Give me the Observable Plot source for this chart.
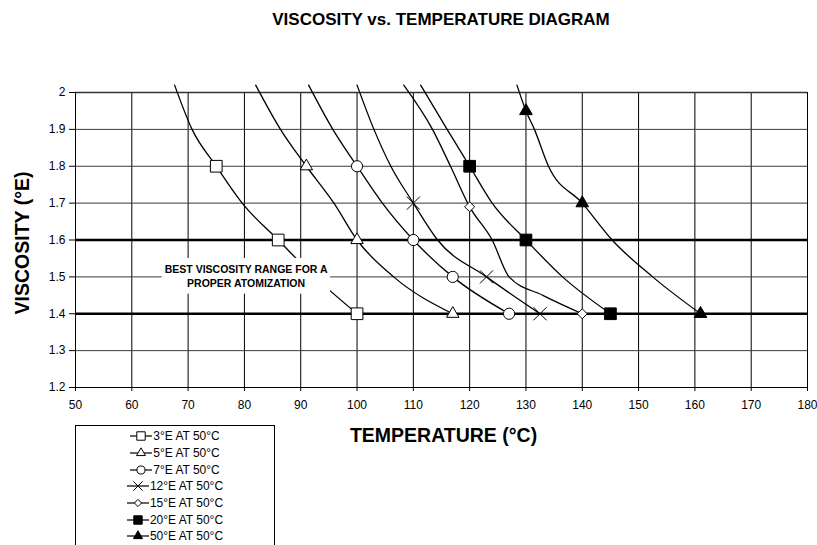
<!DOCTYPE html>
<html><head><meta charset="utf-8">
<script src="https://cdn.jsdelivr.net/npm/d3@7"></script>
<script src="https://cdn.jsdelivr.net/npm/@observablehq/plot@0.6"></script>
<style>
body{margin:0;background:#fff;font-family:"Liberation Sans",Arial,sans-serif;}
#wrap{position:relative;width:817px;height:545px;overflow:hidden;background:#fff;}
#title{height:40px;line-height:40px;margin-left:75px;width:732px;text-align:center;font-weight:bold;font-size:17px;color:#000;}
#legend{position:absolute;left:75px;top:425px;width:200px;height:140px;border:1px solid #000;background:#fff;box-sizing:border-box;padding-top:2px;}
.row{height:16.7px;display:flex;align-items:center;justify-content:center;font-size:12px;color:#000;}
.row svg{margin-right:1px;}
</style></head>
<body><div id="wrap"><div id="title">VISCOSITY vs. TEMPERATURE DIAGRAM</div><div id="plot"></div><div id="legend"></div></div>
<script>
// ---- data ----
const seriesNames = ["3°E AT 50°C","5°E AT 50°C","7°E AT 50°C","12°E AT 50°C","15°E AT 50°C","20°E AT 50°C","50°E AT 50°C"];
// marker points
const markerT = [[75,86,100],[91,100,117],[100,110,117,127],[110,123,132.5],[120,140],[120,130,145],[130,140,161]];
const markerV = [[1.8,1.6,1.4],[1.8,1.6,1.4],[1.8,1.6,1.5,1.4],[1.7,1.5,1.4],[1.69,1.4],[1.8,1.6,1.4],[1.95,1.7,1.4]];
// traced curves
const curveT = [
  [67.6,70.7,75,79.6,86,92.5,100],
  [82,86.4,91,95.9,100,106.5,117],
  [91.4,95.7,100,104.5,110,117,127],
  [100,103,106,110,114.3,123,132.5],
  [108.3,113.4,116.6,120,124,127,133,140],
  [111.3,116,120,124,130,136.5,145],
  [128.4,130,131.5,134,140,145.3,152.5,161]
];
const curveV = [
  [2.02,1.9,1.8,1.7,1.6,1.5,1.4],
  [2.02,1.9,1.8,1.7,1.6,1.5,1.4],
  [2.02,1.9,1.8,1.7,1.6,1.5,1.4],
  [2.02,1.9,1.8,1.7,1.6,1.5,1.4],
  [2.02,1.9,1.8,1.69,1.6,1.5,1.45,1.4],
  [2.02,1.9,1.8,1.7,1.6,1.5,1.4],
  [2.02,1.95,1.9,1.8,1.7,1.6,1.5,1.4]
];
const xTicks = [50,60,70,80,90,100,110,120,130,140,150,160,170,180];
const yTicks = [1.2,1.3,1.4,1.5,1.6,1.7,1.8,1.9,2.0];
const rangeBounds = [1.4,1.6];
const noteText = ["BEST VISCOSITY RANGE FOR A\nPROPER ATOMIZATION"];
const noteT = [80.3], noteV = [1.503];
const noteBoxT = [65.4,95.3], noteBoxV = [1.453,1.55];
const xTitle = "TEMPERATURE (°C)", yTitle = "VISCOSITY (°E)";

// ---- styles ----
const symType = ["square","triangle","circle","times","diamond2","square","triangle"];
const symFill = ["white","white","white","none","white","black","black"];
const symR = [6.6,4.6,5.6,6,4.5,6.6,4.7];

const curves = seriesNames.flatMap((s,i)=>curveT[i].map((t,j)=>({series:s,T:t,V:curveV[i][j]})));
const markers = seriesNames.map((s,i)=>markerT[i].map((t,j)=>({series:s,T:t,V:markerV[i][j]})));
const note = noteText.map((t,i)=>({text:t,T:noteT[i],V:noteV[i],T1:noteBoxT[0],T2:noteBoxT[1],V1:noteBoxV[0],V2:noteBoxV[1]}));

const chart = Plot.plot({
  width:817, height:460,
  marginTop:52, marginBottom:113, marginLeft:75, marginRight:10,
  style:{fontFamily:'"Liberation Sans",Arial,sans-serif', fontSize:"12px", color:"#000", background:"#fff"},
  x:{domain:[50,180]},
  y:{domain:[1.2,2]},
  marks:[
    Plot.gridX(xTicks,{stroke:"#000",strokeOpacity:1,strokeWidth:1}),
    Plot.gridY(yTicks,{stroke:"#3a3a3a",strokeOpacity:1,strokeWidth:1}),
    Plot.ruleY([2.0],{stroke:"#333",strokeWidth:1.6}),
    Plot.ruleY(rangeBounds,{stroke:"#000",strokeWidth:2.6}),
    Plot.ruleX([50],{stroke:"#000",strokeWidth:1}),
    Plot.ruleY([1.2],{stroke:"#000",strokeWidth:1}),
    Plot.line(curves,{x:"T",y:"V",z:"series",curve:"monotone-x",stroke:"#000",strokeWidth:1.3}),
    Plot.rect(note,{x1:"T1",x2:"T2",y1:"V1",y2:"V2",fill:"white"}),
    Plot.text(note,{x:"T",y:"V",text:"text",fontSize:10.5,fontWeight:"bold",lineHeight:1.3,fill:"#000"}),
    ...markers.map((m,i)=>Plot.dot(m,{x:"T",y:"V",symbol:symType[i],r:symR[i],fill:symFill[i],stroke:"#000",strokeWidth:1})),
    Plot.axisX({ticks:xTicks,tickSize:4,tickPadding:9,label:null,stroke:"#000"}),
    Plot.axisY({ticks:yTicks,tickSize:6,tickPadding:4,label:null,tickFormat:d=>String(+d.toFixed(1)),stroke:"#000"}),
    Plot.text([xTitle],{frameAnchor:"bottom",lineAnchor:"middle",textAnchor:"middle",dx:2,dy:48,fontSize:19.5,fontWeight:"bold",fill:"#000"}),
    Plot.text([yTitle],{frameAnchor:"left",lineAnchor:"middle",textAnchor:"middle",dx:-53,dy:3,rotate:-90,fontSize:19.5,fontWeight:"bold",fill:"#000"})
  ]
});
document.getElementById("plot").appendChild(chart);

// legend
const leg = d3.select("#legend");
const d3sym = {square:d3.symbolSquare,triangle:d3.symbolTriangle,circle:d3.symbolCircle,times:d3.symbolTimes,diamond2:d3.symbolDiamond2};
seriesNames.forEach((s,i)=>{
  const row = leg.append("div").attr("class","row");
  const svg = row.append("svg").attr("width",22).attr("height",12);
  svg.append("line").attr("x1",0).attr("x2",22).attr("y1",6).attr("y2",6).attr("stroke","#000").attr("stroke-width",1.2);
  const rr = symR[i]*0.72;
  svg.append("path").attr("transform","translate(11,6)")
    .attr("d",d3.symbol(d3sym[symType[i]], Math.PI*rr*rr)())
    .attr("fill",symFill[i]).attr("stroke","#000").attr("stroke-width",1);
  row.append("span").text(s);
});
</script>
</body></html>
